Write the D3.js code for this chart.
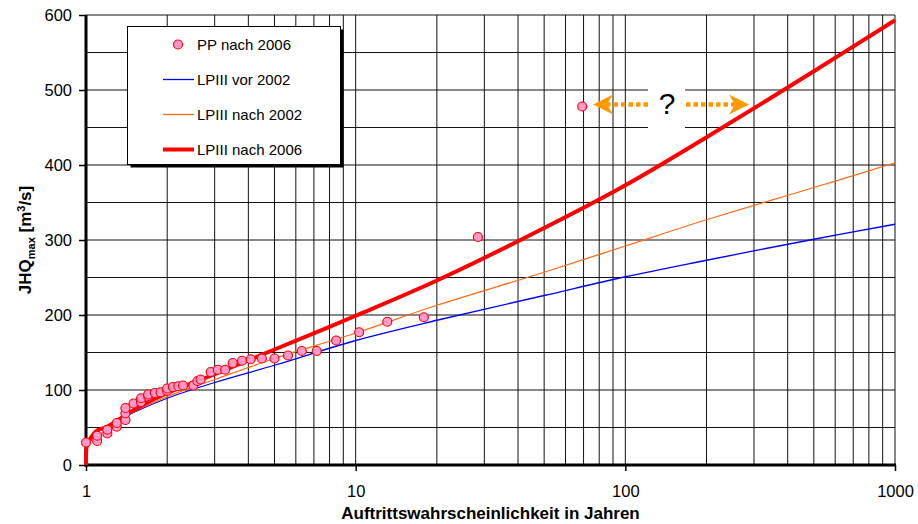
<!DOCTYPE html>
<html>
<head>
<meta charset="utf-8">
<script src="https://cdn.jsdelivr.net/npm/d3@7"></script>
<style>
  body { margin: 0; background: #fff; }
  svg { display: block; font-family: "Liberation Sans", Arial, sans-serif; }
</style>
</head>
<body>
<svg id="chart" width="918" height="524"></svg>
<script>
// Jährlichkeiten (x) und Abflüsse (y) der Kurven
const returnPeriods = [1.0005, 1.01, 1.05, 1.1, 1.2, 1.5, 2, 3, 5, 10, 20, 50, 100, 200, 500, 1000];
const lpVor2002 = [2, 22, 35, 43, 52, 70, 89, 110, 133, 166, 193, 226, 251, 273, 301, 321];
const lpNach2002 = [2, 23, 36, 44, 53, 71, 91, 114, 142, 176, 213, 257, 292, 327, 370, 403];
const lpNach2006 = [0, 28, 38, 46, 51, 73, 96, 121, 154, 199, 246, 316, 373, 437, 525, 593];

// plotting positions nach 2006
const ppT = [1.0, 1.1, 1.1, 1.2, 1.2, 1.3, 1.3, 1.4, 1.4, 1.4, 1.5, 1.6, 1.6, 1.7, 1.7, 1.8, 1.89,
  2.0, 2.0, 2.1, 2.2, 2.29, 2.5, 2.59, 2.66, 2.9, 3.08, 3.28, 3.5, 3.79, 4.08, 4.49, 5.0,
  5.61, 6.31, 7.17, 8.46, 10.3, 13.1, 17.9, 28.4, 69.2];
const ppQ = [30, 32, 39, 42, 47, 51, 56, 60, 69, 76, 82, 84, 89, 92, 94, 96, 97,
  99, 102, 104, 105, 106, 106, 112, 114, 124, 127, 127, 136, 139, 141, 142, 142,
  146, 152, 152, 166, 177, 191, 197, 304, 478];

const xTicks = [1, 10, 100, 1000];
const yTicks = [0, 100, 200, 300, 400, 500, 600];

const svg = d3.select("#chart");
const plotLeft = 86, plotRight = 895, plotTop = 15, plotBottom = 465;

const x = d3.scaleLog().domain([1, 1000]).range([plotLeft, plotRight]);
const y = d3.scaleLinear().domain([0, 600]).range([plotBottom, plotTop]);

// gridlines
const minorX = [];
[1, 10, 100].forEach((d) => {
  for (let k = 1; k < 10; k++) minorX.push(k * d);
});
minorX.push(1000);

const grid = svg.append("g").attr("stroke", "#111").attr("stroke-width", 1);
grid.selectAll("line.v")
  .data(minorX)
  .join("line")
  .attr("class", "v")
  .attr("x1", (d) => x(d)).attr("x2", (d) => x(d))
  .attr("y1", plotTop).attr("y2", plotBottom);
grid.selectAll("line.h")
  .data(d3.range(50, 601, 50))
  .join("line")
  .attr("class", "h")
  .attr("x1", plotLeft).attr("x2", plotRight)
  .attr("y1", (d) => y(d)).attr("y2", (d) => y(d));

// axes
const yAxis = svg.append("g")
  .attr("transform", `translate(${plotLeft},0)`)
  .call(d3.axisLeft(y).tickValues(yTicks).tickSize(7).tickPadding(7));
const xAxis = svg.append("g")
  .attr("transform", `translate(0,${plotBottom})`)
  .call(d3.axisBottom(x).tickValues(xTicks).tickFormat(d3.format("d")).tickSize(6).tickPadding(14));

[yAxis, xAxis].forEach((ax) => {
  ax.select(".domain").remove();
  ax.selectAll(".tick line").attr("stroke", "#000").attr("stroke-width", 1.5);
  ax.selectAll(".tick text")
    .attr("fill", "#000")
    .style("font-size", "16.5px")
    .style("font-family", "'Liberation Sans', Arial, sans-serif");
});

svg.append("line").attr("x1", plotLeft).attr("x2", plotLeft).attr("y1", plotTop).attr("y2", plotBottom + 1.5)
  .attr("stroke", "#000").attr("stroke-width", 3);
svg.append("line").attr("x1", plotLeft - 1.5).attr("x2", plotRight + 1).attr("y1", plotBottom).attr("y2", plotBottom)
  .attr("stroke", "#000").attr("stroke-width", 3);

// curves
const line = (values) =>
  d3.line()
    .x((d, i) => x(returnPeriods[i]))
    .y((d) => y(d))
    .curve(d3.curveCatmullRom.alpha(0.5))(values);

const series = [
  { values: lpVor2002, color: "#0000ff", width: 1.3 },
  { values: lpNach2002, color: "#ff6a13", width: 1.3 },
  { values: lpNach2006, color: "#ff0000", width: 4 },
];
series.forEach((s) => {
  svg.append("path")
    .attr("d", line(s.values))
    .attr("fill", "none")
    .attr("stroke", s.color)
    .attr("stroke-width", s.width);
});

// points
svg.append("g")
  .selectAll("circle")
  .data(ppT)
  .join("circle")
  .attr("cx", (d) => x(d))
  .attr("cy", (d, i) => y(ppQ[i]))
  .attr("r", 4.5)
  .attr("fill", "#ff99cc")
  .attr("stroke", "#ff0000")
  .attr("stroke-width", 1.2);

// question mark annotation
const ann = svg.append("g");
ann.append("rect").attr("x", 648).attr("y", 66).attr("width", 37).attr("height", 68).attr("fill", "#fff");
ann.append("text").attr("x", 667).attr("y", 114).attr("text-anchor", "middle")
  .style("font-size", "30px").text("?");
const arrowY = 104.5;
ann.append("line").attr("x1", 606).attr("x2", 648).attr("y1", arrowY).attr("y2", arrowY)
  .attr("stroke", "#ff9900").attr("stroke-width", 4.3).attr("stroke-dasharray", "4.5,3");
ann.append("line").attr("x1", 686).attr("x2", 735).attr("y1", arrowY).attr("y2", arrowY)
  .attr("stroke", "#ff9900").attr("stroke-width", 4.3).attr("stroke-dasharray", "4.5,3");
ann.append("path")
  .attr("d", `M593,${arrowY} L613,${arrowY - 10} L607,${arrowY} L613,${arrowY + 10} Z`)
  .attr("fill", "#ff9900");
ann.append("path")
  .attr("d", `M749,${arrowY} L729,${arrowY - 10} L735,${arrowY} L729,${arrowY + 10} Z`)
  .attr("fill", "#ff9900");

// legend
const lg = svg.append("g");
lg.append("rect").attr("x", 130.5).attr("y", 29.5).attr("width", 213).attr("height", 138).attr("fill", "#000");
lg.append("rect").attr("x", 127.5).attr("y", 26.5).attr("width", 213).attr("height", 138)
  .attr("fill", "#fff").attr("stroke", "#000").attr("stroke-width", 1);

const legendItems = [
  { label: "PP nach 2006", type: "point" },
  { label: "LPIII vor 2002", type: "line", color: "#0000ff", width: 1.3 },
  { label: "LPIII nach 2002", type: "line", color: "#ff6a13", width: 1.3 },
  { label: "LPIII nach 2006", type: "line", color: "#ff0000", width: 4 },
];
legendItems.forEach((it, i) => {
  const cy = 44.5 + i * 35;
  if (it.type === "point") {
    lg.append("circle").attr("cx", 178).attr("cy", cy).attr("r", 4.5)
      .attr("fill", "#ff99cc").attr("stroke", "#ff0000").attr("stroke-width", 1.2);
  } else {
    lg.append("line").attr("x1", 163).attr("x2", 194).attr("y1", cy).attr("y2", cy)
      .attr("stroke", it.color).attr("stroke-width", it.width);
  }
  lg.append("text").attr("x", 197).attr("y", cy + 5.5)
    .style("font-size", "15px").text(it.label);
});

// axis titles
svg.append("text")
  .attr("x", (plotLeft + plotRight) / 2).attr("y", 519)
  .attr("text-anchor", "middle")
  .style("font-size", "17px").style("font-weight", "bold")
  .text("Auftrittswahrscheinlichkeit in Jahren");

const yt = svg.append("text")
  .attr("transform", `translate(31,${(plotTop + plotBottom) / 2}) rotate(-90)`)
  .attr("text-anchor", "middle")
  .style("font-size", "17px").style("font-weight", "bold");
yt.append("tspan").text("JHQ");
yt.append("tspan").attr("dy", 4).style("font-size", "11px").text("max");
yt.append("tspan").attr("dy", -4).text(" [m");
yt.append("tspan").attr("dy", -6).style("font-size", "11px").text("3");
yt.append("tspan").attr("dy", 6).text("/s]");
</script>
</body>
</html>
